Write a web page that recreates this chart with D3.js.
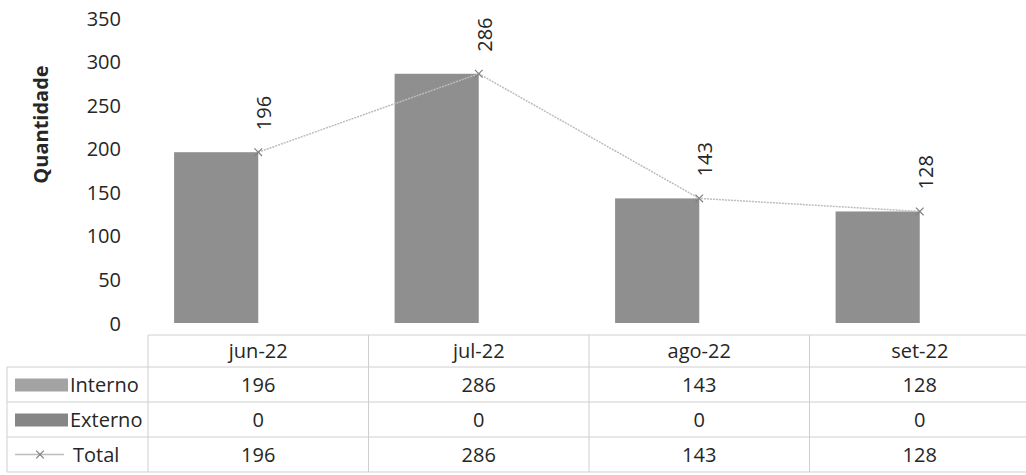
<!DOCTYPE html>
<html>
<head>
<meta charset="utf-8">
<script src="https://cdn.jsdelivr.net/npm/d3@7"></script>
<style>
  body { margin: 0; background: #fff; }
  text { font-family: "Open Sans", sans-serif; fill: #262626; }
</style>
</head>
<body>
<div id="chart"></div>
<script>
// data
const months = ["jun-22", "jul-22", "ago-22", "set-22"];
const interno = [196, 286, 143, 128];
const externo = [0, 0, 0, 0];
const total = [196, 286, 143, 128];
const yTicks = [0, 50, 100, 150, 200, 250, 300, 350];

(function chart() {
    const width = 1026, height = 475,
        margin = ({ top: 18, right: -4, bottom: 152, left: 148 });

    const svg = d3.select("#chart")
        .append("svg")
        .attr("width", width)
        .attr("height", height);

    // x scales: months, then the two bar series inside each month
    let x0 = d3.scaleBand()
        .domain(months)
        .range([margin.left, width - margin.right]);

    let x1 = d3.scaleBand()
        .domain(["Interno", "Externo"])
        .range([0, x0.bandwidth()])
        .paddingOuter(0.31);

    let y = d3.scaleLinear()
        .domain([0, 350])
        .range([height - margin.bottom, margin.top]);

    // y axis, no line and no ticks, just labels
    svg.append("g")
        .attr("transform", `translate(${margin.left - 27},0)`)
        .call(d3.axisLeft(y).tickValues(yTicks).tickSize(0).tickPadding(0))
        .call(g => g.select(".domain").remove())
        .call(g => g.selectAll("text")
            .attr("font-size", 20)
            .attr("font-family", "Open Sans")
            .attr("fill", "#262626")
            .attr("dy", "0.35em"));

    // y axis title
    svg.append("text")
        .attr("transform", `translate(48,${(y(0) + y(350)) / 2 - 46}) rotate(-90)`)
        .attr("text-anchor", "middle")
        .attr("font-size", 20)
        .attr("font-weight", "bold")
        .text("Quantidade");

    const rows = months.map((m, i) => ({ month: m, Interno: interno[i], Externo: externo[i], Total: total[i] }));

    // bars
    const barColors = { Interno: "#8f8f8f", Externo: "#868686" };
    svg.append("g")
        .selectAll("g")
        .data(rows)
        .join("g")
        .attr("transform", d => `translate(${x0(d.month)},0)`)
        .selectAll("rect")
        .data(d => ["Interno", "Externo"].map(k => ({ key: k, value: d[k] })))
        .join("rect")
            .attr("x", d => x1(d.key))
            .attr("y", d => y(d.value))
            .attr("width", x1.bandwidth())
            .attr("height", d => y(0) - y(d.value))
            .attr("fill", d => barColors[d.key]);

    // total line, points at the middle of each month
    const cx = d => x0(d.month) + x0.bandwidth() / 2;
    let line = d3.line()
        .x(cx)
        .y(d => y(d.Total));

    svg.append("path")
        .datum(rows)
        .attr("d", line)
        .attr("fill", "none")
        .attr("stroke", "#bdbdbd")
        .attr("stroke-width", 1.5)
        .attr("stroke-dasharray", "2,1");

    const cross = d3.symbol().type(d3.symbolX).size(40);
    svg.append("g")
        .selectAll("path")
        .data(rows)
        .join("path")
            .attr("transform", d => `translate(${cx(d)},${y(d.Total)})`)
            .attr("d", cross)
            .attr("fill", "none")
            .attr("stroke", "#808080")
            .attr("stroke-width", 1.2);

    // rotated data labels over the points
    svg.append("g")
        .selectAll("text")
        .data(rows)
        .join("text")
            .attr("transform", d => `translate(${cx(d) + 6},${y(d.Total) - 22}) rotate(-90)`)
            .attr("dy", "0.35em")
            .attr("font-size", 20)
            .text(d => d.Total);

    // data table
    const tableTop = 335, rowH = 35;
    const rowTops = [tableTop, tableTop + 32, tableTop + 32 + rowH, tableTop + 32 + 2 * rowH, tableTop + 32 + 3 * rowH];
    const grid = svg.append("g")
        .attr("stroke", "#cfcfcf")
        .attr("stroke-width", 1);

    // horizontal lines
    rowTops.forEach((ty, i) => {
        grid.append("line")
            .attr("x1", i === 0 ? margin.left : 7)
            .attr("x2", width)
            .attr("y1", ty).attr("y2", ty);
    });
    // vertical lines
    grid.selectAll(".v")
        .data(months)
        .join("line")
            .attr("x1", d => x0(d)).attr("x2", d => x0(d))
            .attr("y1", tableTop).attr("y2", rowTops[4]);
    grid.append("line")
        .attr("x1", 7).attr("x2", 7)
        .attr("y1", rowTops[1]).attr("y2", rowTops[4]);

    // header row: months
    svg.append("g")
        .selectAll("text")
        .data(months)
        .join("text")
            .attr("x", d => x0(d) + x0.bandwidth() / 2)
            .attr("y", (rowTops[0] + rowTops[1]) / 2)
            .attr("dy", "0.35em")
            .attr("text-anchor", "middle")
            .attr("font-size", 20)
            .text(d => d);

    const series = [
        { name: "Interno", values: interno },
        { name: "Externo", values: externo },
        { name: "Total", values: total }
    ];

    series.forEach((s, r) => {
        const mid = (rowTops[r + 1] + rowTops[r + 2]) / 2;
        svg.append("g")
            .selectAll("text")
            .data(s.values)
            .join("text")
                .attr("x", (d, i) => x0(months[i]) + x0.bandwidth() / 2)
                .attr("y", mid)
                .attr("dy", "0.35em")
                .attr("text-anchor", "middle")
                .attr("font-size", 20)
                .text(d => d);

        // legend key
        if (s.name === "Total") {
            svg.append("line")
                .attr("x1", 15).attr("x2", 64)
                .attr("y1", mid).attr("y2", mid)
                .attr("stroke", "#bdbdbd")
                .attr("stroke-width", 1.5);
            svg.append("path")
                .attr("transform", `translate(40,${mid})`)
                .attr("d", cross)
                .attr("fill", "none")
                .attr("stroke", "#808080")
                .attr("stroke-width", 1.2);
            svg.append("text")
                .attr("x", 73).attr("y", mid)
                .attr("dy", "0.35em")
                .attr("font-size", 20)
                .text(s.name);
        } else {
            svg.append("rect")
                .attr("x", 15).attr("y", mid - 6)
                .attr("width", 53).attr("height", 13)
                .attr("fill", s.name === "Interno" ? "#a3a3a3" : barColors.Externo);
            svg.append("text")
                .attr("x", 70).attr("y", mid)
                .attr("dy", "0.35em")
                .attr("font-size", 20)
                .text(s.name);
        }
    });
})();
</script>
</body>
</html>
